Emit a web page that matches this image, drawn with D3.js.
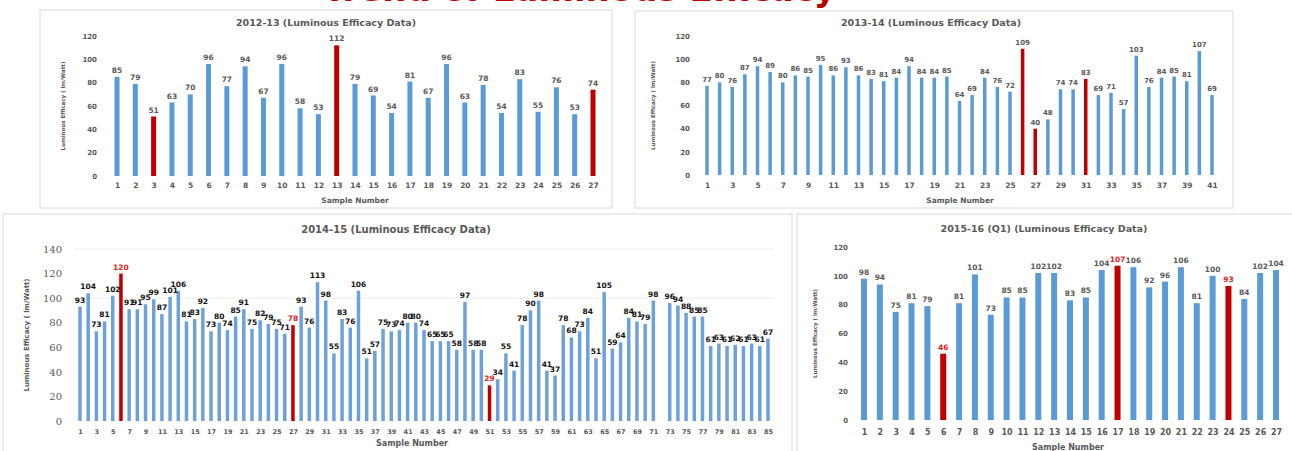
<!DOCTYPE html>
<html>
<head>
<meta charset="utf-8">
<script src="https://cdn.jsdelivr.net/npm/d3@7"></script>
<style>
  body { margin: 0; background: #fff; }
  text { font-family: "DejaVu Sans", Arial, sans-serif; }
</style>
</head>
<body>
<div id="chart"></div>
<script>
// ---- data ----
var values1213 = [85, 79, 51, 63, 70, 96, 77, 94, 67, 96, 58, 53, 112, 79, 69, 54, 81, 67, 96, 63, 78, 54, 83, 55, 76, 53, 74];
var red1213 = [3, 13, 27];

var values1314 = [77, 80, 76, 87, 94, 89, 80, 86, 85, 95, 86, 93, 86, 83, 81, 84, 94, 84, 84, 85,
                  64, 69, 84, 76, 72, 109, 40, 48, 74, 74, 83, 69, 71, 57, 103, 76, 84, 85, 81, 107, 69];
var red1314 = [26, 27, 31];

var values1415 = [93, 104, 73, 81, 102, 120, 91, 91, 95, 99, 87, 101, 106, 81, 83, 92, 73, 80, 74, 85,
                  91, 75, 82, 79, 75, 71, 78, 93, 76, 113, 98, 55, 83, 76, 106, 51, 57, 75, 73, 74,
                  80, 80, 74, 65, 65, 65, 58, 97, 58, 58, 29, 34, 55, 41, 78, 90, 98, 41, 37, 78,
                  68, 73, 84, 51, 105, 59, 64, 84, 81, 79, 98, null, 96, 94, 88, 85, 85, 61, 63, 61,
                  62, 61, 63, 61, 67];
var red1415 = [6, 27, 51];

var values1516 = [98, 94, 75, 81, 79, 46, 81, 101, 73, 85, 85, 102, 102, 83, 85, 104, 107, 106, 92, 96, 106, 81, 100, 93, 84, 102, 104];
var red1516 = [6, 17, 24];

var ticks120 = [0, 20, 40, 60, 80, 100, 120];
var ticks140 = [0, 20, 40, 60, 80, 100, 120, 140];

(function() {
  var width = 1292, height = 451;
  var blue = "#5b9bd5", red = "#c00000", grey = "#595959";

  var svg = d3.select("#chart")
    .append("svg")
    .attr("width", width)
    .attr("height", height);

  // big red heading, mostly cropped off at the top
  svg.append("text")
    .attr("x", 836)
    .attr("y", 1)
    .attr("text-anchor", "end")
    .style("font-size", "34px")
    .style("font-weight", "bold")
    .attr("fill", red)
    .text("Trend of Luminous Efficacy");

  function panel(o) {
    var g = svg.append("g");

    g.append("rect")
      .attr("x", o.box[0]).attr("y", o.box[1])
      .attr("width", o.box[2] - o.box[0]).attr("height", o.box[3] - o.box[1])
      .attr("fill", "#fff")
      .attr("stroke", "#d9d9d9");

    var samples = o.values.map(function(d, i) { return i + 1; });
    var x = d3.scalePoint().domain(samples).range(o.xr);
    var y = d3.scaleLinear().domain([0, o.ticks[o.ticks.length - 1]]).range(o.yr);

    // faint grid lines
    if (o.grid) {
      g.selectAll(".grid")
        .data(o.grid)
        .enter().append("line")
        .attr("x1", o.xr[0] - 6).attr("x2", o.xr[1] + 6)
        .attr("y1", function(d) { return y(d); })
        .attr("y2", function(d) { return y(d); })
        .attr("stroke", "#ececec");
    }

    // y axis (no line, just labels)
    var yAxis = g.append("g")
      .attr("transform", "translate(" + o.tickX + ",0)")
      .call(d3.axisLeft(y).tickValues(o.ticks).tickSize(0).tickPadding(0));
    yAxis.select(".domain").remove();
    yAxis.selectAll("text")
      .attr("fill", grey)
      .style("font-family", o.tickFont || "DejaVu Sans")
      .style("font-size", o.tickSize + "px")
      .style("font-weight", o.tickWeight || "bold");

    // x axis
    var xAxis = g.append("g")
      .attr("transform", "translate(0," + o.xLabelY + ")")
      .call(d3.axisBottom(x)
        .tickValues(samples.filter(function(d) { return o.oddOnly ? d % 2 === 1 : true; }))
        .tickSize(0).tickPadding(0));
    xAxis.select(".domain").remove();
    xAxis.selectAll("text")
      .attr("fill", grey)
      .style("font-size", o.xTickSize + "px")
      .style("font-weight", "bold");

    var data = o.values.map(function(v, i) { return { n: i + 1, v: v }; })
      .filter(function(d) { return d.v !== null; });

    g.selectAll(".bar")
      .data(data)
      .enter().append("rect")
      .attr("x", function(d) { return x(d.n) - o.barW / 2; })
      .attr("y", function(d) { return y(d.v); })
      .attr("width", o.barW)
      .attr("height", function(d) { return y(0) - y(d.v); })
      .attr("fill", function(d) { return o.red.indexOf(d.n) >= 0 ? red : o.barColor; });

    g.selectAll(".lbl")
      .data(data)
      .enter().append("text")
      .attr("x", function(d) { return x(d.n); })
      .attr("y", function(d) { return y(d.v) - 4; })
      .attr("text-anchor", "middle")
      .style("font-size", o.labelSize + "px")
      .style("font-weight", "bold")
      .attr("fill", function(d) {
        return (o.redLabels && o.red.indexOf(d.n) >= 0) ? "#e02020" : o.labelColor;
      })
      .text(function(d) { return d.v; });

    // title
    g.append("text")
      .attr("x", o.titleX).attr("y", o.titleY)
      .attr("text-anchor", "middle")
      .style("font-size", o.titleSize + "px")
      .style("font-weight", "bold")
      .attr("fill", grey)
      .text(o.title);

    // axis titles
    g.append("text")
      .attr("transform", "translate(" + o.yTitleX + "," + ((o.yr[0] + o.yr[1]) / 2) + ") rotate(-90)")
      .attr("text-anchor", "middle")
      .style("font-size", o.yTitleSize + "px")
      .style("font-weight", "bold")
      .attr("fill", grey)
      .text("Luminous Efficacy ( lm/Watt)");

    g.append("text")
      .attr("x", o.xTitle[0]).attr("y", o.xTitle[1])
      .attr("text-anchor", "middle")
      .style("font-size", o.xTitleSize + "px")
      .style("font-weight", "bold")
      .attr("fill", grey)
      .text("Sample Number");
  }

  panel({
    box: [40, 10, 612, 208], values: values1213, red: red1213, ticks: ticks120,
    xr: [117, 593], yr: [176, 36], barW: 5, barColor: blue,
    tickX: 97, tickSize: 7, xLabelY: 183, xTickSize: 7.5,
    labelSize: 7.5, labelColor: grey,
    title: "2012-13  (Luminous Efficacy Data)", titleX: 326, titleY: 26, titleSize: 9.5,
    yTitleX: 65, yTitleSize: 5.5, xTitle: [355, 203], xTitleSize: 7.5
  });

  panel({
    box: [635, 11, 1233, 208], values: values1314, red: red1314, ticks: ticks120,
    xr: [707, 1212], yr: [175, 36], barW: 3.5, barColor: blue,
    tickX: 690, tickSize: 7, xLabelY: 183, xTickSize: 7.5, oddOnly: true,
    labelSize: 7, labelColor: grey,
    title: "2013-14  (Luminous Efficacy Data)", titleX: 931, titleY: 26, titleSize: 9.5,
    yTitleX: 655, yTitleSize: 5.5, xTitle: [960, 203], xTitleSize: 7.5
  });

  panel({
    box: [3, 214, 792, 460], values: values1415, red: red1415, ticks: ticks140, grid: [100, 140],
    xr: [80, 768], yr: [421, 249], barW: 3.5, barColor: "#6fa1d9",
    tickX: 62, tickSize: 10, tickFont: "DejaVu Serif", tickWeight: "normal",
    xLabelY: 429, xTickSize: 6.5, oddOnly: true,
    labelSize: 7.5, labelColor: "#111", redLabels: true,
    title: "2014-15  (Luminous Efficacy Data)", titleX: 396, titleY: 233, titleSize: 10,
    yTitleX: 29, yTitleSize: 7, xTitle: [412, 446], xTitleSize: 8
  });

  panel({
    box: [797, 214, 1296, 460], values: values1516, red: red1516, ticks: ticks120,
    xr: [864, 1276], yr: [420, 247], barW: 6, barColor: blue,
    tickX: 848, tickSize: 7, xLabelY: 429, xTickSize: 8,
    labelSize: 7.5, labelColor: grey, redLabels: true,
    title: "2015-16 (Q1)  (Luminous Efficacy Data)", titleX: 1044, titleY: 232, titleSize: 9.5,
    yTitleX: 817, yTitleSize: 5.5, xTitle: [1068, 450], xTitleSize: 8
  });
})();
</script>
</body>
</html>
